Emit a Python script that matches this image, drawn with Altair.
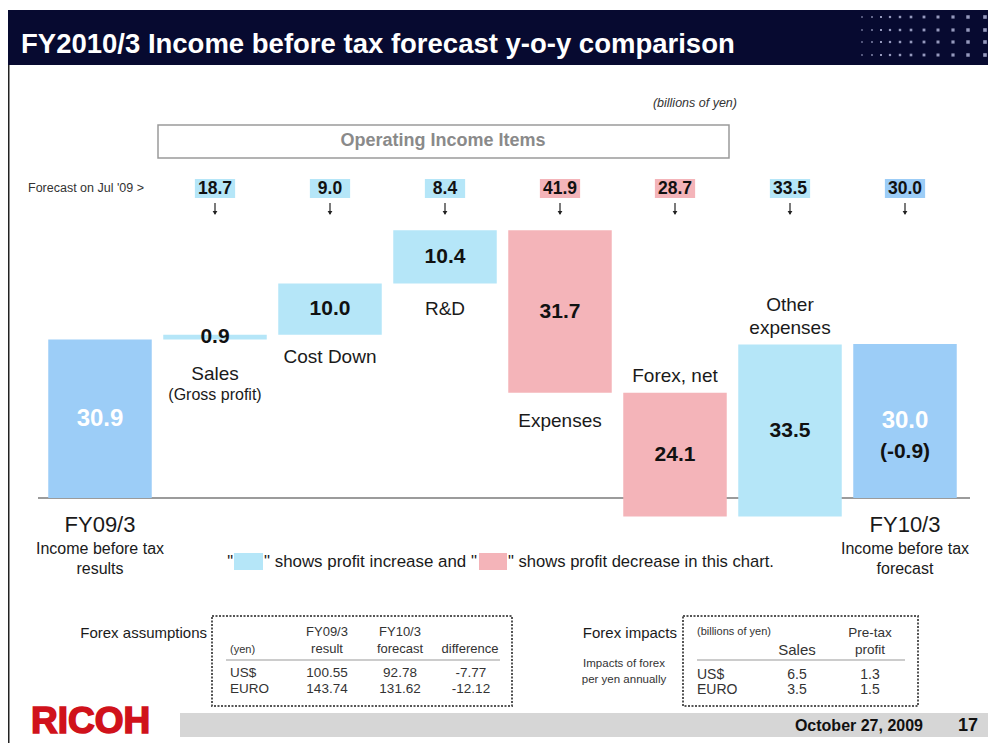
import altair as alt
import pandas as pd

# ---------------- data ----------------
categories = ["FY09/3", "Sales", "Cost Down", "R&D", "Expenses", "Forex, net", "Other expenses", "FY10/3"]
changes = [30.9, 0.9, 10.0, 10.4, -31.7, -24.1, 33.5, 30.0]
kinds = ["total", "increase", "increase", "increase", "decrease", "decrease", "increase", "total"]

forecast_jul09 = [18.7, 9.0, 8.4, 41.9, 28.7, 33.5, 30.0]
forecast_kinds = ["increase", "increase", "increase", "decrease", "decrease", "increase", "total"]

fx_currencies = ["US$", "EURO"]
fx_fy09_result = [100.55, 143.74]
fx_fy10_forecast = [92.78, 131.62]
fx_difference = [-7.77, -12.12]

impact_currencies = ["US$", "EURO"]
impact_sales = [6.5, 3.5]
impact_pretax = [1.3, 1.5]

# ---------------- style ----------------
FONT = "Liberation Sans"
W, H, M = 980, 735, 8
NAVY = "#070a30"
C_TOTAL = "#9ccdf7"
C_UP = "#b5e6f8"
C_DOWN = "#f4b4b9"
KIND_SCALE = alt.Scale(domain=["total", "increase", "decrease"], range=[C_TOTAL, C_UP, C_DOWN])

XS = alt.Scale(domain=[-0.5, 7.5], range=[34.5, 954.5], nice=False, zero=False)
YS = alt.Scale(domain=[-47.76, 95.52], range=[H, 0], nice=False, zero=False)

ONE = pd.DataFrame({"a": [0]})


def prect(x0, y0, x1, y1, **kw):
    return alt.Chart(ONE).mark_rect(**kw).encode(
        x=alt.value(x0 - M), x2=alt.value(x1 - M), y=alt.value(y0 - M), y2=alt.value(y1 - M))


def prule(x0, y0, x1, y1, **kw):
    return alt.Chart(ONE).mark_rule(**kw).encode(
        x=alt.value(x0 - M), x2=alt.value(x1 - M), y=alt.value(y0 - M), y2=alt.value(y1 - M))


def ptext(rows, size, weight="normal", color="#1a1a1a", align="center", font=FONT, style="normal", **kw):
    df = pd.DataFrame([{"t": t, "px": x - M, "py": y - M} for t, x, y in rows])
    return alt.Chart(df).mark_text(fontSize=size, fontWeight=weight, color=color, align=align,
                                   baseline="middle", font=font, fontStyle=style, **kw).encode(
        x=alt.X("px:Q", scale=None, axis=None),
        y=alt.Y("py:Q", scale=None, axis=None),
        text="t:N")


def btext(rows, size, weight="normal", color="#1a1a1a"):
    df = pd.DataFrame([{"t": t, "i": i, "py": y - M} for t, i, y in rows])
    return alt.Chart(df).mark_text(fontSize=size, fontWeight=weight, color=color, align="center",
                                   baseline="middle", font=FONT).encode(
        x=alt.X("i:Q", scale=XS, axis=None),
        y=alt.Y("py:Q", scale=None, axis=None),
        text="t:N")


# ---------------- waterfall table ----------------
rows = []
run = 0.0
for i, (c, v, k) in enumerate(zip(categories, changes, kinds)):
    if k == "total":
        s, e = 0.0, v
    else:
        s, e = run, run + v
    run = e
    rows.append(dict(i=i, cat=c, kind=k, start=s, end=e, x0=i - 0.45, x1=i + 0.45,
                     mid=(s + e) / 2, label=f"{abs(v):.1f}"))
bars_df = pd.DataFrame(rows)
yoy = round(changes[-1] - changes[0], 1)
yoy_df = pd.DataFrame([{"i": len(categories) - 1, "mid": bars_df["mid"].iloc[-1], "t": f"({yoy:.1f})"}])

fc_df = pd.DataFrame({"i": list(range(1, len(forecast_jul09) + 1)), "v": forecast_jul09, "kind": forecast_kinds})
fc_df["label"] = fc_df["v"].map(lambda v: f"{v:.1f}")
fc_df["xa"] = fc_df["i"] - 0.175
fc_df["xb"] = fc_df["i"] + 0.175

layers = []

# title bar + dots
layers.append(prect(8, 10, 996, 65, color=NAVY))
dot_x = [862, 872, 881, 890, 900, 911, 924, 938, 953, 968, 985]
dot_y = [17, 30, 42, 55]
dot_sz = [2, 3, 4, 5, 6, 7, 8, 9, 10, 12, 13]
dots = pd.DataFrame([{"px": x - M, "py": y - M, "s": s} for x, s in zip(dot_x, dot_sz) for y in dot_y])
layers.append(alt.Chart(dots).mark_square(color="#aeb3d6", opacity=0.85).encode(
    x=alt.X("px:Q", scale=None, axis=None), y=alt.Y("py:Q", scale=None, axis=None),
    size=alt.Size("s:Q", scale=None, legend=None)))
layers.append(ptext([("FY2010/3 Income before tax forecast y-o-y comparison", 21, 45)], 27.5,
                    weight="bold", color="white", align="left"))

# left frame line
layers.append(prule(8.5, 65, 8.5, 751, color="#222", strokeWidth=2))

# units + operating income box
layers.append(ptext([("(billions of yen)", 737, 103)], 12.5, align="right", style="italic", color="#333"))
layers.append(prect(158, 125, 729, 158, fillOpacity=0, stroke="#9a9a9a", strokeWidth=1.5))
layers.append(ptext([("Operating Income Items", 443, 141)], 18, weight="bold", color="#8a8a8a"))

# forecast row
layers.append(ptext([("Forecast on Jul '09 >", 28, 188)], 12.5, align="left", color="#333"))
layers.append(alt.Chart(fc_df).mark_rect().encode(
    x=alt.X("xa:Q", scale=XS, axis=None), x2="xb:Q",
    y=alt.value(179 - M), y2=alt.value(198 - M),
    color=alt.Color("kind:N", scale=KIND_SCALE, legend=None)))
layers.append(alt.Chart(fc_df).mark_text(fontSize=17.5, fontWeight="bold", font=FONT, color="#111",
                                         baseline="middle").encode(
    x=alt.X("i:Q", scale=XS, axis=None), y=alt.value(189 - M), text="label:N"))
# down arrows
layers.append(alt.Chart(fc_df).mark_rule(color="#222", strokeWidth=1.2).encode(
    x=alt.X("i:Q", scale=XS, axis=None), y=alt.value(203 - M), y2=alt.value(214 - M)))
layers.append(alt.Chart(fc_df).mark_point(shape="triangle-down", filled=True, color="#222",
                                          size=22, opacity=1).encode(
    x=alt.X("i:Q", scale=XS, axis=None), y=alt.value(213 - M)))

# baseline (value 0)
layers.append(alt.Chart(ONE).mark_rule(color="#7a7a7a", strokeWidth=1.5).encode(
    y=alt.Y(datum=0, scale=YS, axis=None), x=alt.value(38 - M), x2=alt.value(970 - M)))

# waterfall bars
layers.append(alt.Chart(bars_df).mark_rect().encode(
    x=alt.X("x0:Q", scale=XS, axis=None), x2="x1:Q",
    y=alt.Y("start:Q", scale=YS, axis=None), y2="end:Q",
    color=alt.Color("kind:N", scale=KIND_SCALE, legend=None)))

# value labels
layers.append(alt.Chart(bars_df).transform_filter("datum.kind == 'total'").mark_text(
    fontSize=24, fontWeight="bold", font=FONT, color="white", baseline="middle").encode(
    x=alt.X("i:Q", scale=XS, axis=None), y=alt.Y("mid:Q", scale=YS, axis=None), text="label:N"))
layers.append(alt.Chart(bars_df).transform_filter("datum.kind != 'total'").mark_text(
    fontSize=21, fontWeight="bold", font=FONT, color="#111", baseline="middle").encode(
    x=alt.X("i:Q", scale=XS, axis=None), y=alt.Y("mid:Q", scale=YS, axis=None), text="label:N"))
layers.append(alt.Chart(yoy_df).mark_text(
    fontSize=21, fontWeight="bold", font=FONT, color="#111", baseline="middle", dy=31).encode(
    x=alt.X("i:Q", scale=XS, axis=None), y=alt.Y("mid:Q", scale=YS, axis=None), text="t:N"))

# category labels
layers.append(btext([("Sales", 1, 374), ("Cost Down", 2, 357), ("R&D", 3, 309),
                     ("Expenses", 4, 421), ("Forex, net", 5, 376),
                     ("Other", 6, 305), ("expenses", 6, 328)], 19))
layers.append(btext([("(Gross profit)", 1, 395)], 16))
layers.append(btext([("FY09/3", 0, 525), ("FY10/3", 7, 525)], 22))
layers.append(btext([("Income before tax", 0, 549), ("results", 0, 569),
                     ("Income before tax", 7, 549), ("forecast", 7, 569)], 16))

# legend sentence
layers.append(prect(234, 553, 263, 570, color=C_UP))
layers.append(prect(479, 553, 507, 570, color=C_DOWN))
layers.append(ptext([('"', 233, 562)], 16.5, align="right"))
layers.append(ptext([('" shows profit increase and "', 264, 562)], 16.9, align="left"))
layers.append(ptext([('" shows profit decrease in this chart.', 508, 562)], 16.6, align="left"))

# forex assumptions table
layers.append(ptext([("Forex assumptions", 207, 633)], 15, align="right"))
layers.append(prect(212, 616, 512, 706, fillOpacity=0, stroke="#555", strokeWidth=2, strokeDash=[2, 1.5]))
layers.append(ptext([("(yen)", 230, 650)], 11, align="left", color="#333"))
layers.append(ptext([("FY09/3", 327, 632), ("result", 327, 649), ("FY10/3", 400, 632),
                     ("forecast", 400, 649), ("difference", 470, 649)], 13, color="#333"))
layers.append(prule(226, 660, 500, 660, color="#999", strokeWidth=1))
fx_rows_l = [(c, 230, 673 + 16 * k) for k, c in enumerate(fx_currencies)]
fx_rows_v = []
for k in range(len(fx_currencies)):
    yy = 673 + 16 * k
    fx_rows_v += [(f"{fx_fy09_result[k]:.2f}", 327, yy), (f"{fx_fy10_forecast[k]:.2f}", 400, yy),
                  (f"{fx_difference[k]:.2f}", 471, yy)]
layers.append(ptext(fx_rows_l, 13.5, align="left", color="#333"))
layers.append(ptext(fx_rows_v, 13.5, color="#333"))

# forex impacts table
layers.append(ptext([("Forex impacts", 677, 633)], 15, align="right"))
layers.append(ptext([("Impacts of forex", 624, 664), ("per yen annually", 624, 680)], 11.5, color="#333"))
layers.append(prect(683, 616, 918, 706, fillOpacity=0, stroke="#555", strokeWidth=2, strokeDash=[2, 1.5]))
layers.append(ptext([("(billions of yen)", 697, 632)], 11, align="left", color="#333"))
layers.append(ptext([("Sales", 797, 650)], 15, color="#333"))
layers.append(ptext([("Pre-tax", 870, 633), ("profit", 870, 650)], 13.5, color="#333"))
layers.append(prule(697, 660, 905, 660, color="#999", strokeWidth=1))
im_rows_l = [(c, 697, 675 + 15 * k) for k, c in enumerate(impact_currencies)]
im_rows_v = []
for k in range(len(impact_currencies)):
    yy = 675 + 15 * k
    im_rows_v += [(f"{impact_sales[k]:.1f}", 797, yy), (f"{impact_pretax[k]:.1f}", 870, yy)]
layers.append(ptext(im_rows_l, 14, align="left", color="#333"))
layers.append(ptext(im_rows_v, 14, color="#333"))

# footer
layers.append(ptext([("RICOH", 31, 722)], 37, weight="bold", color="#d0121b", align="left",
                    stroke="#d0121b", strokeWidth=1.6))
layers.append(prect(180, 713, 996, 737, color="#d6d6d6"))
layers.append(ptext([("October 27, 2009", 923, 726)], 16, weight="bold", align="right", color="#111"))
layers.append(ptext([("17", 978, 726)], 18, weight="bold", align="right", color="#111"))

chart = alt.layer(*layers).resolve_scale(
    x="independent", y="independent", color="independent", size="independent"
).properties(
    width=W, height=H, padding=0, background="white",
    autosize=alt.AutoSizeParams(type="none")
).configure_view(strokeWidth=0)

chart.save("out.html", embed_options={"renderer": "svg", "actions": False})
